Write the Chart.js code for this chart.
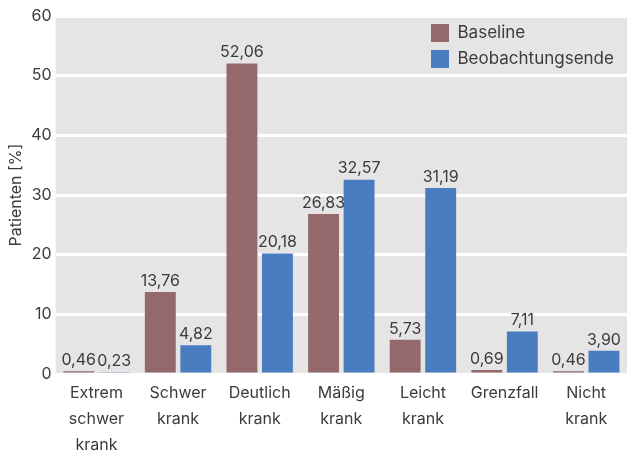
<!DOCTYPE html>
<html>
<head>
<meta charset="utf-8">
<script src="https://cdn.jsdelivr.net/npm/chart.js@4"></script>
<style>
	html, body { margin: 0; padding: 0; background: #fff; }
	#wrap { width: 627px; height: 452px; }
</style>
</head>
<body>
<div id="wrap"><canvas id="myChart"></canvas></div>
<script>
const categories = [
	["Extrem", "schwer", "krank"],
	["Schwer", "krank"],
	["Deutlich", "krank"],
	["Mäßig", "krank"],
	["Leicht", "krank"],
	"Grenzfall",
	["Nicht", "krank"],
];
const seriesNames = ["Baseline", "Beobachtungsende"];
const baselineValues = [0.46, 13.76, 52.06, 26.83, 5.73, 0.69, 0.46];
const endValues = [0.23, 4.82, 20.18, 32.57, 31.19, 7.11, 3.90];
const yTicks = [0, 10, 20, 30, 40, 50, 60];

const textColor = "#3b3b3b";
Chart.defaults.font.family = "Inter, Roboto, sans-serif";
Chart.defaults.font.size = 16;
Chart.defaults.color = textColor;

// grauer Hintergrund der Plotfläche
const plotBackground = {
	id: "plotBackground",
	beforeDraw(chart) {
		const a = chart.chartArea;
		const c = chart.ctx;
		c.save();
		c.fillStyle = "#e5e5e5";
		c.fillRect(a.left, a.top, a.right - a.left, a.bottom - a.top);
		c.restore();
	},
};

// Legende oben rechts in die Plotfläche schieben
const legendInside = {
	id: "legendInside",
	afterLayout(chart) {
		const lg = chart.legend;
		lg.left = chart.chartArea.right - 204;
		lg.top = chart.chartArea.top;
	},
};

// Werte über den Balken
const barValues = {
	id: "barValues",
	afterDatasetsDraw(chart) {
		const c = chart.ctx;
		c.save();
		c.font = "16px Inter, Roboto, sans-serif";
		c.fillStyle = textColor;
		c.textAlign = "center";
		c.textBaseline = "bottom";
		chart.data.datasets.forEach((ds, i) => {
			chart.getDatasetMeta(i).data.forEach((bar, j) => {
				c.fillText(ds.data[j].toFixed(2).replace(".", ","), bar.x, bar.y - 3);
			});
		});
		c.restore();
	},
};

new Chart(document.getElementById("myChart"), {
	type: "bar",
	data: {
		labels: categories,
		datasets: [
			{
				label: seriesNames[0],
				data: baselineValues,
				backgroundColor: "#95686c",
				barPercentage: 0.87,
				categoryPercentage: 0.87,
			},
			{
				label: seriesNames[1],
				data: endValues,
				backgroundColor: "#4a7cc0",
				barPercentage: 0.87,
				categoryPercentage: 0.87,
			},
		],
	},
	options: {
		responsive: true,
		maintainAspectRatio: false,
		animation: false,
		layout: { padding: { top: 16, right: 0, left: 7, bottom: 0 } },
		plugins: {
			legend: {
				position: "chartArea",
				align: "start",
				labels: {
					boxWidth: 18,
					boxHeight: 18,
					padding: 8,
					color: textColor,
					font: { size: 17 },
				},
			},
			tooltip: { enabled: false },
		},
		scales: {
			x: {
				grid: { display: false, drawTicks: false },
				border: { display: false },
				afterFit(scale) {
					scale.height = 78;
				},
				ticks: {
					maxRotation: 0,
					autoSkip: false,
					padding: 6,
					color: textColor,
					font: { size: 16, lineHeight: 1.625 },
				},
			},
			y: {
				min: 0,
				max: 60,
				afterBuildTicks(axis) {
					axis.ticks = yTicks.map((v) => ({ value: v }));
				},
				grid: { color: "#ffffff", lineWidth: 3, drawTicks: false },
				border: { display: false },
				ticks: { padding: 4, color: textColor },
				title: {
					display: true,
					text: "Patienten [%]",
					color: textColor,
					font: { size: 16 },
					padding: { top: 0, bottom: 1 },
				},
			},
		},
	},
	plugins: [plotBackground, legendInside, barValues],
});
</script>
</body>
</html>
